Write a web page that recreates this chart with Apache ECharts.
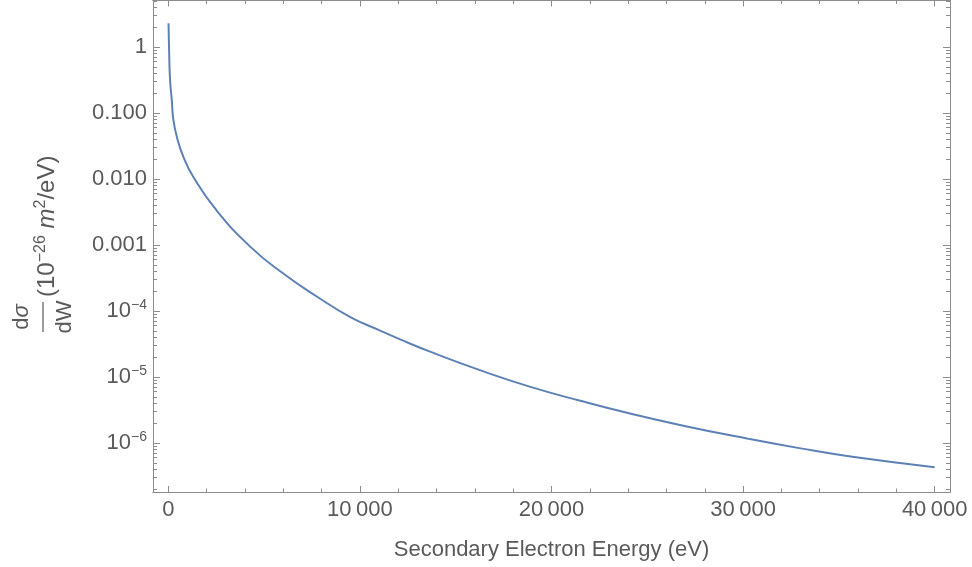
<!DOCTYPE html>
<html><head><meta charset="utf-8">
<script src="https://cdn.jsdelivr.net/npm/echarts@6/dist/echarts.min.js"></script>
<style>html,body{margin:0;padding:0;background:#fff}#c{width:972px;height:567px}</style>
</head><body><div id="c"></div>
<script>
// Data (energy in eV, dσ/dW in 1e-26 m^2/eV)
const energy = [10, 40, 90, 180, 260, 440, 780, 1300, 2500, 4300, 6000, 7750, 9500, 11000, 12100, 13700, 16300, 18900, 21500, 24100, 27000, 30200, 33000, 35700, 40000];
const crossSection = [2.3, 0.9, 0.32, 0.157, 0.08, 0.044, 0.0218, 0.0108, 0.0034, 0.00093, 0.00037, 0.000166, 8.1e-5, 5.13e-5, 3.72e-5, 2.4e-5, 1.26e-5, 7.1e-6, 4.37e-6, 2.8e-6, 1.8e-6, 1.17e-6, 8.3e-7, 6.2e-7, 4.3e-7];
const xTicks = [0, 10000, 20000, 30000, 40000];
const xMinorTicks = [2000, 4000, 6000, 8000, 12000, 14000, 16000, 18000, 22000, 24000, 26000, 28000, 32000, 34000, 36000, 38000];
const yTickExponents = [-6, -5, -4, -3, -2, -1, 0];
const yTickLabels = ['10{s|−6}', '10{s|−5}', '10{s|−4}', '0.001', '0.010', '0.100', '1'];
const yMinorFactors = [2, 3, 4, 5, 6, 7, 8, 9];
const xTitle = 'Secondary Electron Energy (eV)';

const FONT = '"Liberation Sans", Arial, sans-serif';
const TXT = '#5a5a5a';
const AX = '#8c8c8c';
const FS = 22;
const xMin = -800, xMax = 40800;
const yMin = -6.742, yMax = 0.705;

const yMinor = [];
for (let n = -7; n <= 0; n++) {
  yMinorFactors.forEach(k => { const v = n + Math.log10(k); if (v > yMin && v < yMax) yMinor.push(v); });
}

const fmtX = v => { const r = Math.round(v); if (r === 0) return '0'; const s = String(r); return s.slice(0, s.length - 3) + '\u2009' + s.slice(s.length - 3); };
const fmtY = v => { const i = yTickExponents.indexOf(Math.round(v)); return i >= 0 ? yTickLabels[i] : ''; };

function xAxisDef(pos, ticks, len, labels, name) {
  return {
    type: 'value', position: pos, min: xMin, max: xMax,
    axisLine: { show: true, onZero: false, lineStyle: { color: AX, width: 1 } },
    axisTick: { show: true, inside: true, length: len, customValues: ticks, lineStyle: { color: AX, width: 1 } },
    axisLabel: { show: labels, customValues: ticks, formatter: fmtX, margin: 7, color: TXT, fontSize: FS, fontFamily: FONT },
    splitLine: { show: false },
    name: name || '', nameLocation: 'middle', nameGap: 47,
    nameTextStyle: { color: TXT, fontSize: FS, fontFamily: FONT }
  };
}
function yAxisDef(pos, ticks, len, labels) {
  return {
    type: 'value', position: pos, min: yMin, max: yMax,
    axisLine: { show: true, onZero: false, lineStyle: { color: AX, width: 1 } },
    axisTick: { show: true, inside: true, length: len, customValues: ticks, lineStyle: { color: AX, width: 1 } },
    axisLabel: { show: labels, customValues: ticks, formatter: fmtY, margin: 6, color: TXT, fontSize: FS, fontFamily: FONT,
      rich: { s: { fontSize: 14, fontFamily: FONT, color: TXT, padding: [0, 0, 12, 0] } } },
    splitLine: { show: false }
  };
}

const chart = echarts.init(document.getElementById('c'), null, { renderer: 'canvas' });
chart.setOption({
  animation: false,
  backgroundColor: '#ffffff',
  grid: { left: 153, right: 22, top: 0.5, bottom: 75, outerBoundsMode: 'none' },
  xAxis: [
    xAxisDef('bottom', xTicks, 6, true, xTitle),
    xAxisDef('bottom', xMinorTicks, 3.5, false),
    xAxisDef('top', xTicks, 6, false),
    xAxisDef('top', xMinorTicks, 3.5, false)
  ],
  yAxis: [
    yAxisDef('left', yTickExponents, 7, true),
    yAxisDef('left', yMinor, 4, false),
    yAxisDef('right', yTickExponents, 7, false),
    yAxisDef('right', yMinor, 4, false)
  ],
  series: [{
    type: 'line', xAxisIndex: 0, yAxisIndex: 0,
    data: energy.map((e, i) => [e, Math.log10(crossSection[i])]),
    showSymbol: false, smooth: 0.5,
    lineStyle: { color: '#5E81B5', width: 2 }
  }],
  graphic: [{
    type: 'group', x: 47, y: 317, rotation: Math.PI / 2,
    children: [
      { type: 'line', shape: { x1: -15, y1: -4, x2: 15, y2: -4 }, style: { stroke: TXT, lineWidth: 1.2 } },
      { type: 'text', x: 0, y: -25, style: { text: 'd{i|σ}', fontSize: FS, fontFamily: FONT, fill: TXT, align: 'center', verticalAlign: 'middle',
          rich: { i: { fontSize: FS, fontFamily: FONT, fontStyle: 'italic', fill: TXT } } } },
      { type: 'text', x: 0, y: 18, style: { text: 'dW', fontSize: FS, fontFamily: FONT, fill: TXT, align: 'center', verticalAlign: 'middle' } },
      { type: 'text', x: 20, y: 0, style: {
          text: '{p|(10}{s|−26}{p| }{m|m}{s|2}{p|/eV)}', align: 'left', verticalAlign: 'middle', fill: TXT,
          rich: {
            p: { fontSize: 24, fontFamily: FONT, fill: TXT },
            m: { fontSize: 24, fontFamily: FONT, fontStyle: 'italic', fill: TXT },
            s: { fontSize: 16, fontFamily: FONT, fill: TXT, padding: [0, 0, 13, 0] }
          } } }
    ]
  }]
});
</script></body></html>
